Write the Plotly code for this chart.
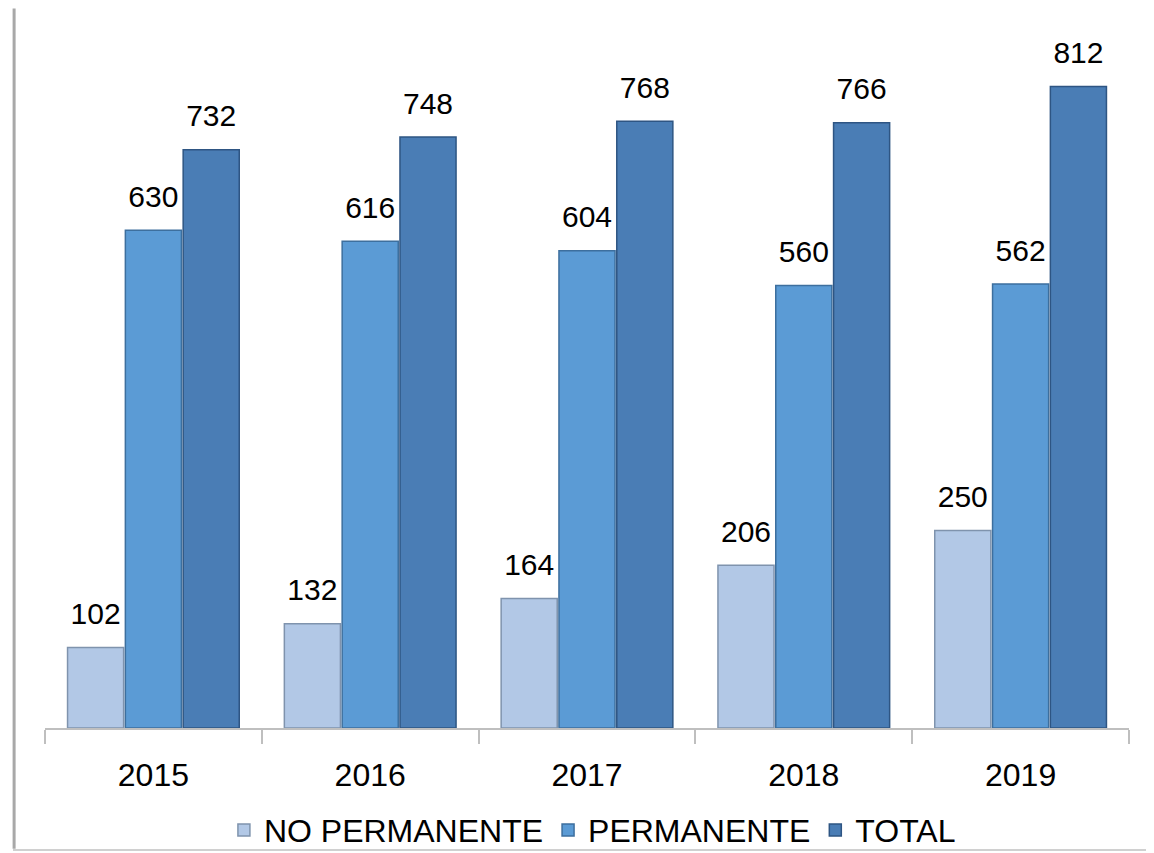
import plotly.graph_objects as go

years = ["2015", "2016", "2017", "2018", "2019"]
no_permanente = [102, 132, 164, 206, 250]
permanente = [630, 616, 604, 560, 562]
total = [732, 748, 768, 766, 812]

series = [
    ("NO PERMANENTE", no_permanente, "#b2c8e6", "#7f93ad"),
    ("PERMANENTE", permanente, "#5b9bd5", "#3d6f9e"),
    ("TOTAL", total, "#4a7db5", "#2e5583"),
]

FONT = "Liberation Sans, Arial, sans-serif"

fig = go.Figure()
for i, (name, vals, col, line) in enumerate(series):
    fig.add_trace(go.Bar(
        x=years, y=vals, name=name, offsetgroup=str(i),
        marker=dict(color=col, line=dict(color=line, width=1.5)),
        cliponaxis=False,
    ))
for i, (name, vals, col, line) in enumerate(series):
    fig.add_trace(go.Scatter(
        x=years, y=vals, mode="markers+text", offsetgroup=str(i),
        marker=dict(size=24, color="rgba(0,0,0,0)"),
        text=[str(v) for v in vals], textposition="top center",
        textfont=dict(size=30, color="black", family=FONT),
        showlegend=False, hoverinfo="skip", cliponaxis=False,
    ))

fig.update_layout(
    width=1138, height=845,
    margin=dict(l=37, r=17, t=9, b=125),
    paper_bgcolor="white", plot_bgcolor="white",
    barmode="group", bargap=0.2, bargroupgap=0.03,
    scattermode="group", scattergap=0.2,
    font=dict(family=FONT, size=30, color="black"),
    showlegend=True,
    legend=dict(orientation="h", x=0.505, xanchor="center",
                yref="container", y=0.027, yanchor="middle",
                font=dict(size=32, family=FONT), itemwidth=30, tracegroupgap=0,
                bgcolor="rgba(0,0,0,0)"),
    xaxis=dict(showline=True, linecolor="#bfbfbf", linewidth=1.5, ticks="outside",
               tickson="boundaries", ticklen=14, tickcolor="#bfbfbf", tickwidth=1.5,
               ticklabelstandoff=18,
               tickfont=dict(size=32, family=FONT), showgrid=False),
    yaxis=dict(range=[0, 900], visible=False, showgrid=False),
    shapes=[
        dict(type="line", xref="paper", yref="paper", x0=-0.0295, x1=1.03, y0=1.014, y1=1.014,
             line=dict(color="#d9d9d9", width=2)),
        dict(type="line", xref="paper", yref="paper", x0=-0.0295, x1=1.03, y0=-0.1716, y1=-0.1716,
             line=dict(color="#d0d0d0", width=2)),
        dict(type="line", xref="paper", yref="paper", x0=-0.0285, x1=-0.0285, y0=-0.170, y1=1.012,
             line=dict(color="#a8a8a8", width=3)),
    ],
)

fig.write_html("out.html")
